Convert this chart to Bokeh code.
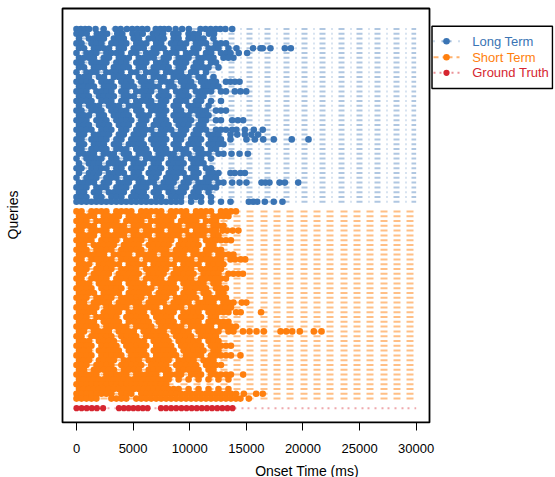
from bokeh.plotting import figure
from bokeh.models import FixedTicker, Range1d, ColumnDataSource
from bokeh.core.properties import value
from bokeh.embed import file_html
from bokeh.resources import INLINE

# ---------------- data (onset times in ms) ----------------
series_labels = ["Long Term", "Short Term", "Ground Truth"]
x_ticks = [0, 5000, 10000, 15000, 20000, 25000, 30000]
time_window = [0, 30000]

# Long-term predictions, one list per query, top row first
long_term = [
    [0, 380, 760, 1100, 1680, 2400, 3450, 3900, 4450, 4920, 5360, 5800, 6250, 7000, 7400, 7750, 8150, 8750, 9330, 9920, 10950, 11400, 11850, 12300, 12700, 13150, 13750],
    [0, 450, 900, 1800, 2250, 2700, 3600, 4050, 4950, 5400, 5850, 6750, 7200, 7650, 8550, 9000, 9900, 10350, 10800, 11700, 12150],
    [220, 1100, 1540, 1980, 2420, 3300, 3740, 4180, 5060, 5500, 6380, 6820, 7260, 7700, 8580, 9020, 9900, 10340, 10780, 11220, 12100],
    [0, 440, 1320, 1760, 2200, 3080, 3520, 3960, 4400, 5280, 5720, 6160, 7040, 7480, 8360, 8800, 9240, 9680, 10560, 11000, 11440, 12320, 12760, 13200],
    [220, 660, 1540, 1980, 2420, 2860, 3740, 4180, 5060, 5500, 5940, 6820, 7260, 7700, 8580, 9020, 9460, 10340, 10780, 11660, 12100, 12540, 13420, 14130, 15600, 16250, 16450, 17130, 18400, 18930],
    [0, 880, 1320, 1760, 2640, 3080, 3520, 3960, 4840, 5280, 6160, 6600, 7040, 7920, 8360, 8800, 9680, 10120, 10560, 11440, 11880, 12760, 13200, 13600, 14330, 15070],
    [220, 660, 1100, 1540, 2420, 2860, 3740, 4180, 4620, 5500, 5940, 6380, 6820, 7700, 8140, 9020, 9460, 9900, 10780, 11220, 11660, 12100, 12980, 13420, 13860],
    [0, 440, 1320, 1760, 2200, 2640, 3520, 3960, 4400, 5280, 5720, 6160, 7040, 7480, 7920, 8800, 9240, 9680, 10560, 11000, 11880, 12320],
    [220, 660, 1540, 1980, 2420, 3300, 3740, 4180, 4620, 5500, 5940, 6820, 7260, 7700, 8140, 9020, 9460, 10340, 10780, 11220, 11660, 12540],
    [0, 880, 1320, 1760, 2640, 3080, 3520, 3960, 4840, 5280, 6160, 6600, 7040, 7920, 8360, 8800, 9240, 10120, 10560, 11440],
    [220, 660, 1100, 1980, 2420, 3300, 3740, 4180, 4620, 5500, 5940, 6820, 7260, 7700, 8580, 9020, 9460, 9900, 10780, 11220, 12100],
    [0, 440, 880, 1320, 2200, 2640, 3080, 3960, 4400, 4840, 5720, 6160, 6600, 7480, 7920, 8360, 9240, 9680, 10120, 11000, 11440, 11880, 12320, 13200, 13600, 13980, 14400],
    [220, 660, 1100, 1540, 2420, 2860, 3300, 4180, 4620, 5060, 5940, 6380, 6820, 7260, 8140, 8580, 9460, 9900, 10340, 11220, 11660, 12100, 12540],
    [0, 440, 880, 1760, 2200, 2640, 3080, 3960, 4400, 5280, 5720, 6160, 6600, 7480, 7920, 8800, 9240, 9680, 10560, 11000, 11440, 11880, 12760, 13200, 13980, 14480, 14990],
    [220, 660, 1100, 1980, 2420, 2860, 3300, 4180, 4620, 5060, 5940, 6380, 7260, 7700, 8140, 9020, 9460, 9900, 10780, 11220],
    [0, 440, 880, 1320, 2200, 2640, 3080, 3960, 4400, 5280, 5720, 6160, 6600, 7480, 7920, 8800, 9240, 9680, 10560, 11000, 11880, 12760],
    [220, 1100, 1540, 1980, 2860, 3300, 3740, 4620, 5060, 5500, 6380, 6820, 7260, 7700, 8580, 9020, 9900, 10340, 10780, 11660],
    [0, 440, 1320, 1760, 2200, 3080, 3520, 3960, 4400, 5280, 5720, 6600, 7040, 7480, 7920, 8800, 9240, 10120, 10560, 11000, 11440, 12320, 12760, 13200],
    [220, 660, 1100, 1980, 2420, 3300, 3740, 4180, 4620, 5500, 5940, 6380, 7260, 7700, 8580, 9020, 9460, 9900, 10780, 11220, 11660],
    [0, 440, 880, 1760, 2200, 2640, 3520, 3960, 4400, 4840, 5720, 6160, 7040, 7480, 7920, 8800, 9240, 9680, 10120, 11000, 11440, 12320, 12760, 13750, 14250, 14720],
    [220, 660, 1100, 1980, 2420, 2860, 3740, 4180, 4620, 5500, 5940, 6820, 7260, 7700, 8140, 9020, 9460, 9900, 10780, 11220],
    [0, 440, 880, 1320, 2200, 2640, 3080, 3960, 4400, 5280, 5720, 6160, 6600, 7480, 7920, 8360, 9240, 9680, 10560, 11000, 11440, 12320, 12760, 13200, 13750, 14130, 14870, 15660, 16450],
    [220, 660, 1540, 1980, 2420, 2860, 3740, 4180, 5060, 5500, 5940, 6820, 7260, 7700, 8580, 9020, 9460, 10340, 10780, 11660, 12100, 12540, 13600, 14200, 14870, 15450, 16040],
    [0, 440, 1320, 1760, 2200, 2640, 3520, 3960, 4840, 5280, 5720, 6600, 7040, 7480, 7920, 8800, 9240, 10120, 10560, 11000, 11880, 12320, 12760, 13600, 15010, 15750, 16490, 17420, 19010, 20490],
    [220, 660, 1540, 1980, 2420, 3300, 3740, 4620, 5060, 5500, 5940, 6820, 7260, 7700, 8580, 9020, 9900, 10340, 10780, 11660, 12100, 12540, 12980],
    [0, 440, 1320, 1760, 2200, 2640, 3520, 3960, 4400, 5280, 5720, 6160, 7040, 7480, 7920, 8800, 9240, 9680, 10560, 11000, 11880, 12320],
    [220, 660, 1100, 1540, 2420, 2860, 3300, 4180, 4620, 5500, 5940, 6380, 7260, 7700, 8140, 8580, 9460, 9900, 10780, 11220, 11660, 12540, 12980, 13690, 14400, 15130],
    [0, 880, 1320, 1760, 2200, 3080, 3520, 4400, 4840, 5280, 6160, 6600, 7040, 7480, 8360, 8800, 9240, 10120, 10560, 11000, 11880],
    [220, 1100, 1540, 1980, 2860, 3300, 3740, 4180, 5060, 5500, 5940, 6820, 7260, 8140, 8580, 9020, 9460, 10340, 10780, 11220],
    [0, 440, 1320, 1760, 2200, 2640, 3520, 3960, 4840, 5280, 5720, 6600, 7040, 7480, 8360, 8800, 9240, 10120, 10560, 11440, 11880],
    [220, 1100, 1540, 1980, 2860, 3300, 3740, 4180, 5060, 5500, 6380, 6820, 7260, 8140, 8580, 9020, 9460, 10340, 10780, 11660, 12100, 12540, 13600, 13980, 14480, 14870],
    [0, 880, 1320, 1760, 2640, 3080, 3520, 4400, 4840, 5280, 5720, 6600, 7040, 7920, 8360, 8800, 9680, 10120, 10560, 11440, 11880, 12320],
    [220, 660, 1100, 1540, 2420, 2860, 3740, 4180, 4620, 5500, 5940, 6380, 6820, 7700, 8140, 8580, 9460, 9900, 10780, 11220, 11660, 12540, 12980, 13750, 14400, 15010, 16340, 16690, 17040, 17930, 18400, 19580],
    [0, 440, 880, 1760, 2200, 2640, 3520, 3960, 4400, 5280, 5720, 6160, 7040, 7480, 7920, 8360, 9240, 9680, 10560, 11000, 11440, 11880, 12320],
    [220, 660, 1540, 1980, 2860, 3300, 3740, 4180, 5060, 5500, 5940, 6820, 7260, 8140, 8580, 9020, 9460, 10340, 10780, 11660],
    [0, 440, 880, 1760, 2200, 3080, 3520, 3960, 4840, 5280, 5720, 6160, 7040, 7480, 8360, 8800, 9240, 10120, 10560, 11000, 11880],
    [0, 440, 880, 1320, 1760, 2200, 2640, 3080, 3520, 3960, 4400, 4840, 5280, 5720, 6160, 6600, 7040, 7480, 7920, 8360, 8800, 9240, 10120, 11000, 11880, 12760, 13600, 15220, 15600, 15960, 16630, 17420, 18190],
]

# Short-term predictions, one list per query, top row first
short_term = [
    [0, 440, 1320, 1760, 2200, 2640, 3520, 3960, 4400, 4840, 5720, 6160, 6600, 7040, 7480, 8360, 8800, 9240, 9680, 10560, 11000, 11440, 11880, 12760, 13200, 13640, 14080],
    [220, 660, 1100, 1540, 2420, 2860, 3300, 3740, 4620, 5060, 5500, 5940, 6380, 7260, 7700, 8140, 8580, 9460, 9900, 10340, 10780, 11220, 12100, 12540, 12980, 13420],
    [0, 440, 880, 1760, 2200, 2640, 3080, 3520, 4400, 4840, 5280, 5720, 6600, 7040, 7480, 7920, 8360, 9240, 9680, 10120, 10560, 11440, 11880, 12320],
    [220, 660, 1100, 1540, 2420, 2860, 3300, 3740, 4180, 5060, 5500, 5940, 6380, 7260, 7700, 8140, 8580, 9020, 9900, 10340, 10780, 11220, 12100, 12540, 12980],
    [0, 440, 1320, 1760, 2200, 2640, 3520, 3960, 4400, 4840, 5280, 6160, 6600, 7040, 7480, 8360, 8800, 9240, 9680, 10560, 11000, 11440, 11880, 12320, 12900, 13300, 13800, 14300],
    [220, 660, 1100, 1540, 2420, 2860, 3300, 3740, 4180, 5060, 5500, 5940, 6380, 7260, 7700, 8140, 8580, 9020, 9900, 10340, 10780, 11220, 12100, 12540],
    [0, 440, 880, 1320, 2200, 2640, 3080, 3520, 4400, 4840, 5280, 5720, 6600, 7040, 7480, 7920, 8360, 9240, 9680, 10120, 10560, 11440, 11880, 12320, 12760, 13200, 13640],
    [220, 660, 1540, 1980, 2420, 2860, 3300, 4180, 4620, 5060, 5500, 6380, 6820, 7260, 7700, 8140, 9020, 9460, 9900, 10340, 10780, 11660, 12100],
    [0, 440, 880, 1760, 2200, 2640, 3080, 3960, 4400, 4840, 5280, 5720, 6600, 7040, 7480, 7920, 8800, 9240, 9680, 10120, 10560, 11440, 11880, 12320, 12760],
    [220, 660, 1100, 1540, 1980, 2420, 3300, 3740, 4180, 4620, 5500, 5940, 6380, 6820, 7700, 8140, 8580, 9020, 9460, 10340, 10780, 11220, 11660, 12540, 12980, 13420, 13860],
    [0, 440, 1320, 1760, 2200, 2640, 3080, 3960, 4400, 4840, 5280, 6160, 6600, 7040, 7480, 7920, 8800, 9240, 9680, 10120, 11000, 11440, 11880, 12320, 12760, 13600, 14000, 14500, 14900],
    [220, 660, 1100, 1980, 2420, 2860, 3300, 3740, 4620, 5060, 5500, 5940, 6820, 7260, 7700, 8140, 8580, 9460, 9900, 10340, 10780, 11660, 12100, 12540, 12980],
    [0, 440, 880, 1760, 2200, 2640, 3080, 3960, 4400, 4840, 5280, 6160, 6600, 7040, 7480, 7920, 8800, 9240, 9680, 10120, 11000, 11440, 11880, 12320, 12760],
    [220, 660, 1540, 1980, 2420, 2860, 3740, 4180, 4620, 5060, 5500, 6380, 6820, 7260, 7700, 8580, 9020, 9460, 9900, 10340, 11220, 11660, 12100, 12540, 13420, 13860, 14300, 14700],
    [0, 440, 1320, 1760, 2200, 2640, 3520, 3960, 4400, 4840, 5280, 6160, 6600, 7040, 7480, 8360, 8800, 9240, 9680, 10120, 11000, 11440, 11880, 12320, 12760, 13200],
    [220, 660, 1100, 1980, 2420, 2860, 3300, 3740, 4620, 5060, 5500, 5940, 6820, 7260, 7700, 8140, 8580, 9460, 9900, 10340, 10780, 11220, 12100, 12540],
    [0, 440, 880, 1320, 2200, 2640, 3080, 3520, 3960, 4840, 5280, 5720, 6160, 6600, 7480, 7920, 8360, 8800, 9680, 10120, 10560, 11000, 11440, 12320, 12760, 13200],
    [220, 660, 1100, 1540, 2420, 2860, 3300, 3740, 4620, 5060, 5500, 5940, 6380, 7260, 7700, 8140, 8580, 9460, 9900, 10340, 11220, 11660, 12540, 12980],
    [0, 440, 880, 1760, 2200, 2640, 3080, 3960, 4400, 4840, 5280, 5720, 6600, 7040, 7480, 7920, 8800, 9240, 9680, 10120, 10560, 11440, 11880, 12320, 12760, 13200],
    [220, 660, 1540, 1980, 2420, 2860, 3740, 4180, 4620, 5060, 5500, 6380, 6820, 7260, 7700, 8580, 9020, 9460, 9900, 10780, 11220, 11660, 12100, 12980, 13420, 13860, 14600, 15000],
    [0, 440, 880, 1320, 1760, 2640, 3080, 3520, 3960, 4400, 5280, 5720, 6160, 6600, 7040, 7920, 8360, 8800, 9240, 10120, 10560, 11000, 11440, 11880, 12320, 12760, 13200, 13640],
    [220, 660, 1100, 1540, 2420, 2860, 3300, 3740, 4620, 5060, 5500, 5940, 6820, 7260, 7700, 8140, 8580, 9460, 9900, 10340, 10780, 11660, 12100, 12540, 12980, 13420, 14100, 14500, 16300],
    [0, 440, 880, 1760, 2200, 2640, 3080, 3520, 4400, 4840, 5280, 5720, 6160, 7040, 7480, 7920, 8360, 9240, 9680, 10120, 10560, 11000, 11880, 12320],
    [220, 660, 1100, 1540, 2420, 2860, 3300, 3740, 4620, 5060, 5500, 5940, 6380, 7260, 7700, 8140, 8580, 9460, 9900, 10340, 10780, 11660, 12100, 12540, 12980, 13420],
    [0, 440, 880, 1320, 1760, 2640, 3080, 3520, 3960, 4400, 5280, 5720, 6160, 6600, 7480, 7920, 8360, 8800, 9240, 10120, 10560, 11000, 11440, 11880, 12760, 13200, 13640, 14080],
    [220, 660, 1540, 1980, 2420, 2860, 3740, 4180, 4620, 5060, 5940, 6380, 6820, 7260, 7700, 8580, 9020, 9460, 9900, 10780, 11220, 11660, 12100, 12540, 13420, 13860, 14700, 15280, 15900, 16540, 18020, 18520, 19050, 19720, 20960, 21640],
    [0, 440, 1320, 1760, 2200, 2640, 3080, 3960, 4400, 4840, 5280, 6160, 6600, 7040, 7480, 7920, 8800, 9240, 9680, 10120, 11000, 11440, 11880, 12320],
    [220, 660, 1100, 1980, 2420, 2860, 3300, 4180, 4620, 5060, 5500, 5940, 6820, 7260, 7700, 8140, 9020, 9460, 9900, 10340, 10780, 11660, 12100, 12540],
    [0, 440, 880, 1320, 2200, 2640, 3080, 3520, 4400, 4840, 5280, 5720, 6160, 7040, 7480, 7920, 8360, 9240, 9680, 10120, 10560, 11000, 11880, 12320, 12760, 13200, 13640],
    [220, 660, 1100, 1980, 2420, 2860, 3300, 3740, 4620, 5060, 5500, 5940, 6820, 7260, 7700, 8140, 8580, 9460, 9900, 10340, 10780, 11220, 12100, 12540],
    [0, 440, 880, 1320, 2200, 2640, 3080, 3520, 3960, 4840, 5280, 5720, 6160, 7040, 7480, 7920, 8360, 8800, 9680, 10120, 10560, 11000, 11880, 12320, 12760, 13200, 13640, 14480],
    [220, 660, 1100, 1980, 2420, 2860, 3300, 4180, 4620, 5060, 5500, 6380, 6820, 7260, 7700, 8140, 9020, 9460, 9900, 10340, 11220, 11660, 12100],
    [0, 440, 880, 1760, 2200, 2640, 3080, 3960, 4400, 4840, 5280, 5720, 6600, 7040, 7480, 7920, 8800, 9240, 9680, 10120, 10560, 11440, 11880, 12320, 12760],
    [220, 660, 1540, 1980, 2420, 2860, 3300, 4180, 4620, 5060, 5500, 6380, 6820, 7260, 7700, 8140, 9020, 9460, 9900, 10340, 10780, 11660, 12100],
    [0, 440, 880, 1320, 1760, 2640, 3080, 3520, 3960, 4400, 5280, 5720, 6160, 6600, 7040, 7920, 8360, 8800, 9240, 10120, 10560, 11000, 11880, 12320, 12760, 13200, 13640, 14720],
    [220, 660, 1100, 1540, 1980, 2420, 2860, 3300, 3740, 4180, 4620, 5060, 5500, 5940, 6380, 6820, 7260, 7700, 8140, 9020, 9900, 10780, 11660, 12540, 13420],
    [0, 440, 880, 1320, 1760, 2200, 2640, 3080, 3520, 3960, 4400, 4840, 5280, 5720, 6160, 6600, 7040, 7480, 7920],
    [220, 660, 1100, 1540, 1980, 2420, 2860, 3300, 3740, 4180, 4620, 5060, 5500, 5940, 6380, 6820, 7260, 7700, 8140, 8580, 9020, 9900, 10780, 11660, 12540, 13420],
    [0, 440, 880, 1320, 1760, 2200, 2640, 3080, 3960, 4400, 4840, 5720, 6160, 6600, 7040, 7480, 7920, 8360, 8800, 9240, 9680, 10120, 10560, 11000, 11440, 11880, 12320, 12760, 13200, 13640, 14080, 14780, 15870, 16450],
    [0, 440, 880, 1320, 1760, 3080, 3520, 3960, 4400, 5280, 5720, 6160, 6600, 7040, 7480, 7920, 8360, 8800, 9240, 9680, 10120, 10560, 11000, 11440, 11880, 12320, 12760, 13200, 13640, 14080, 14480, 15220],
]

# Ground-truth onsets
ground_truth = [0, 450, 900, 1350, 1800, 2350,
                3750, 4180, 4600, 5020, 5440, 5860, 6280,
                7460, 7910, 8360, 8810, 9270, 9720, 10170, 10620, 11070, 11520, 11970, 12430, 12880, 13330, 13780]

# ---------------- styling ----------------
C_LONG = "#3a74b4"
C_SHORT = "#ff7f0e"
C_GT = "#d62630"
FONT = "Liberation Sans"
series_colors = [C_LONG, C_SHORT, C_GT]
dash_long = "6 6 1 5 6 6 1 6 6 6 1 5"
dash_short = "7 6 7 7 7 6"
dash_gt = "2 5 2 4 2 5"

W, H = 555, 477
FL, FR, FT, FB = 60, 553, 6, 423          # frame (drawing area) in canvas pixels
X0, X1 = -1413, 42127                     # x range over the frame
Y0, Y1 = -3.19, 83.69                     # y range over the frame

def dx(px):
    return X0 + (px - FL) / (FR - FL) * (X1 - X0)

def dy(py):
    return Y1 - (py - FT) / (FB - FT) * (Y1 - Y0)

# row positions: ground truth at 0, a blank row, short-term rows, a blank row, long-term rows
gt_y = 0
short_base = gt_y + 2
long_base = short_base + len(short_term) + 1
short_ys = [short_base + len(short_term) - 1 - i for i in range(len(short_term))]
long_ys = [long_base + len(long_term) - 1 - i for i in range(len(long_term))]

p = figure(frame_width=FR - FL, frame_height=FB - FT,
           x_range=Range1d(X0, X1), y_range=Range1d(Y0, Y1),
           output_backend="svg", toolbar_location=None,
           min_border_left=FL, min_border_right=W - FR, min_border_top=FT, min_border_bottom=H - FB)
p.background_fill_color = "white"
p.border_fill_color = "white"
p.outline_line_color = None
p.xgrid.visible = False
p.ygrid.visible = False

# guide lines for each query
p.multi_line(xs=[time_window] * len(long_ys), ys=[[y, y] for y in long_ys],
             line_color=C_LONG, line_alpha=0.4, line_width=2,
             line_dash=dash_long, line_dash_offset=50)
p.multi_line(xs=[time_window] * len(short_ys), ys=[[y, y] for y in short_ys],
             line_color=C_SHORT, line_alpha=0.5, line_width=2,
             line_dash=dash_short, line_dash_offset=3)
p.line(x=time_window, y=[gt_y, gt_y], line_color=C_GT, line_alpha=0.4, line_width=2,
       line_dash=dash_gt, line_dash_offset=2)

def flat(rows, ys):
    xx, yy = [], []
    for r, y in zip(rows, ys):
        xx.extend(r)
        yy.extend([y] * len(r))
    return ColumnDataSource(dict(x=xx, y=yy))

p.scatter("x", "y", source=flat(long_term, long_ys), size=6.6, marker="circle",
          fill_color=C_LONG, line_color=None)
p.scatter("x", "y", source=flat(short_term, short_ys), size=6.6, marker="circle",
          fill_color=C_SHORT, line_color=None)
p.scatter("x", "y", source=flat([ground_truth], [gt_y]), size=6.2, marker="circle",
          fill_color=C_GT, line_color=None)

# plot box
p.quad(left=dx(62), right=dx(429), bottom=dy(422), top=dy(8),
       fill_color=None, line_color="black", line_width=1.8)

# axes
xa = p.xaxis[0]
xa.ticker = FixedTicker(ticks=x_ticks)
xa.axis_line_color = None
xa.major_tick_out = 7
xa.major_tick_in = 1
xa.minor_tick_line_color = None
xa.major_tick_line_color = "black"
xa.major_label_standoff = 13
xa.major_label_text_font = FONT
xa.major_label_text_font_size = "13px"
xa.major_label_text_color = "black"
xa.axis_label = "Onset Time (ms)"
xa.axis_label_text_font = FONT
xa.axis_label_text_font_size = "14px"
xa.axis_label_text_font_style = "normal"
xa.axis_label_text_color = "black"
xa.axis_label_standoff = 7

ya = p.yaxis[0]
ya.ticker = FixedTicker(ticks=[])
ya.axis_line_color = None
ya.major_tick_line_color = None
ya.minor_tick_line_color = None
ya.major_tick_out = 0
ya.major_label_standoff = 0
ya.axis_label = "Queries"
ya.axis_label_text_font = FONT
ya.axis_label_text_font_size = "14px"
ya.axis_label_text_font_style = "normal"
ya.axis_label_text_color = "black"
ya.axis_label_standoff = 40

# legend box, glyphs and coloured labels
p.quad(left=dx(431.5), right=dx(552), bottom=dy(88), top=dy(25.7),
       fill_color="white", line_color="black", line_width=1.5)
item_py = [40.7, 56.7, 72.3]
legend_dash = ["1 7 10 7 1", "5 4 10 4 3", "2 4"]
legend_alpha = [0.5, 0.6, 0.5]
for i in range(3):
    p.line(x=[dx(433), dx(459)], y=[dy(item_py[i])] * 2, line_color=series_colors[i],
           line_alpha=legend_alpha[i], line_width=2, line_dash=legend_dash[i])
p.scatter(x=[dx(446)] * 3, y=[dy(v) for v in item_py], size=[6.6, 6.6, 6.2], marker="circle",
          fill_color=series_colors, line_color=None)
p.text(x=[dx(471.7)] * 3, y=[dy(v) for v in item_py], text=series_labels, text_color=series_colors,
       text_font=value(FONT), text_font_size="13px", text_baseline="middle", text_align="left")

open("out.html", "w").write(file_html(p, INLINE))
